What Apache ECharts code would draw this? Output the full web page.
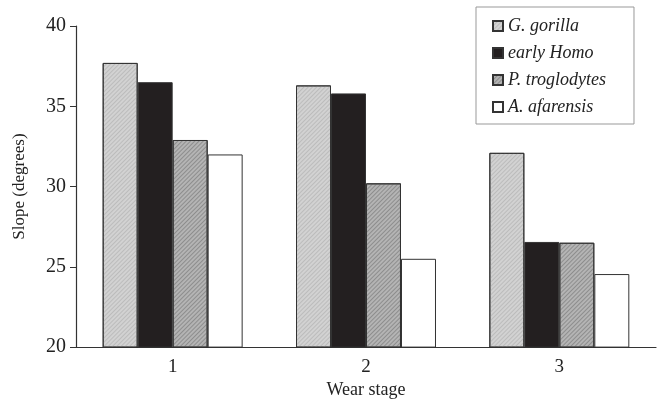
<!DOCTYPE html>
<html>
<head>
<meta charset="utf-8">
<script src="https://cdn.jsdelivr.net/npm/echarts@6/dist/echarts.min.js"></script>
<style>html,body{margin:0;padding:0;background:#fff;}#c{width:657px;height:404px;}</style>
</head>
<body>
<div id="c"></div>
<script>
var categories = ['1', '2', '3'];
var gorilla = [37.7, 36.3, 32.1];
var earlyHomo = [36.5, 35.8, 26.55];
var troglodytes = [32.9, 30.2, 26.5];
var afarensis = [32.0, 25.5, 24.55];
var yTicks = [20, 25, 30, 35, 40];

var font = '"Liberation Serif", "Times New Roman", serif';
var chart = echarts.init(document.getElementById('c'), null, {renderer: 'canvas'});

function hatch(col) {
  return {
    symbol: 'rect', symbolSize: 1, dashArrayX: [1, 0], dashArrayY: [1, 2],
    rotation: -Math.PI / 4, color: col
  };
}

var border = {borderColor: '#333', borderWidth: 1};
chart.setOption({
  animation: false,
  backgroundColor: '#fff',
  grid: {left: 76, right: 1, top: 26, bottom: 54, containLabel: false},
  legend: {
    orient: 'vertical', left: 476, top: 7,
    padding: [10, 28, 8, 16], itemGap: 9, icon: 'rect',
    itemWidth: 10, itemHeight: 10,
    backgroundColor: '#fff', borderColor: '#999', borderWidth: 1,
    textStyle: {fontFamily: font, fontStyle: 'italic', fontSize: 18, color: '#222', lineHeight: 17},
    data: ['G. gorilla', 'early Homo', 'P. troglodytes', 'A. afarensis']
  },
  xAxis: {
    type: 'category', data: categories,
    name: 'Wear stage', nameLocation: 'middle', nameGap: 33,
    nameTextStyle: {fontFamily: font, fontSize: 18, color: '#222'},
    axisLine: {lineStyle: {color: '#333', width: 1.2}},
    axisTick: {length: 5, lineStyle: {color: '#333'}},
    axisLabel: {fontFamily: font, fontSize: 19, color: '#222', margin: 10}
  },
  yAxis: {
    type: 'value', min: yTicks[0], max: yTicks[yTicks.length - 1], interval: 5,
    name: 'Slope (degrees)', nameLocation: 'middle', nameGap: 48,
    nameTextStyle: {fontFamily: font, fontSize: 17, color: '#222'},
    axisLine: {show: true, lineStyle: {color: '#333', width: 1.2}},
    axisTick: {show: true, length: 6, lineStyle: {color: '#333'}},
    axisLabel: {fontFamily: font, fontSize: 20, color: '#222', margin: 10},
    splitLine: {show: false}
  },
  series: [
    {name: 'G. gorilla', type: 'bar', data: gorilla, barGap: '0%', barCategoryGap: '27.6%',
     itemStyle: Object.assign({color: '#d2d2d2', decal: hatch('rgba(170,170,170,0.55)')}, border)},
    {name: 'early Homo', type: 'bar', data: earlyHomo,
     itemStyle: Object.assign({color: '#231f20'}, border)},
    {name: 'P. troglodytes', type: 'bar', data: troglodytes,
     itemStyle: Object.assign({color: '#b4b4b4', decal: hatch('rgba(110,110,110,0.55)')}, border)},
    {name: 'A. afarensis', type: 'bar', data: afarensis,
     itemStyle: Object.assign({color: '#ffffff'}, border)}
  ]
});
</script>
</body>
</html>
